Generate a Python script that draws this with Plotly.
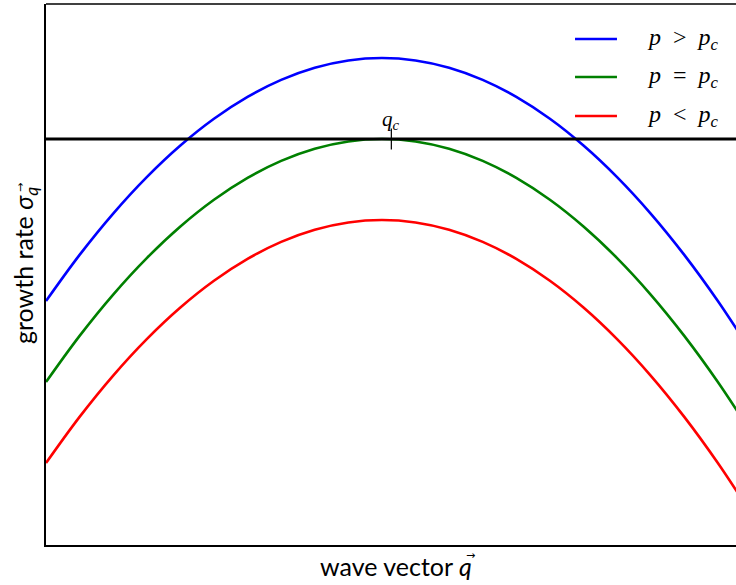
import plotly.graph_objects as go

# wave vector samples and the three growth-rate curves
q = [0.0, 0.1, 0.2, 0.3, 0.4, 0.5, 0.6, 0.7, 0.8, 0.9, 1.0,
     1.1, 1.2, 1.3, 1.4, 1.5, 1.6, 1.7, 1.8, 1.9, 2.0, 2.1]
sigma_above = [-2.00, -1.43, -0.92, -0.47, -0.08, 0.25, 0.52, 0.73, 0.88, 0.97, 1.00,
               0.97, 0.88, 0.73, 0.52, 0.25, -0.08, -0.47, -0.92, -1.43, -2.00, -2.63]
sigma_crit = [-3.00, -2.43, -1.92, -1.47, -1.08, -0.75, -0.48, -0.27, -0.12, -0.03, 0.00,
              -0.03, -0.12, -0.27, -0.48, -0.75, -1.08, -1.47, -1.92, -2.43, -3.00, -3.63]
sigma_below = [-4.00, -3.43, -2.92, -2.47, -2.08, -1.75, -1.48, -1.27, -1.12, -1.03, -1.00,
               -1.03, -1.12, -1.27, -1.48, -1.75, -2.08, -2.47, -2.92, -3.43, -4.00, -4.63]

series_names = ["<i>p</i>  &gt;  <i>p</i><sub><i>c</i></sub>",
                "<i>p</i>  =  <i>p</i><sub><i>c</i></sub>",
                "<i>p</i>  &lt;  <i>p</i><sub><i>c</i></sub>"]
series_colors = ["#0000ff", "#008000", "#ff0000"]

q_c = 1.028
sigma_zero = 0.0

MATH = "Liberation Serif"
SANS = "Lato"

fig = go.Figure()
for ys, name, col in zip([sigma_above, sigma_crit, sigma_below], series_names, series_colors):
    fig.add_trace(go.Scatter(x=q, y=ys, mode="lines", name=name, showlegend=False,
                             line=dict(color=col, width=2.6, shape="spline")))

# marginal-stability line
fig.add_shape(type="line", xref="paper", x0=0, x1=1, yref="y", y0=sigma_zero, y1=sigma_zero,
              line=dict(color="black", width=3), layer="above")

# critical wave vector marker
fig.add_trace(go.Scatter(x=[q_c], y=[sigma_zero], mode="markers", showlegend=False,
                         marker=dict(symbol="cross-thin", size=15,
                                     line=dict(color="black", width=1.2))))
fig.add_annotation(x=q_c, y=sigma_zero, text="<i>q</i><sub><i>c</i></sub>", showarrow=False,
                   yshift=19, font=dict(family=MATH, size=21, color="black"))

# legend (line sample + label per curve)
legend_rows = [0.9353, 0.8651, 0.7930]
for yy, name, col in zip(legend_rows, series_names, series_colors):
    fig.add_shape(type="line", xref="paper", yref="paper", x0=0.7667, x1=0.8275, y0=yy, y1=yy,
                  line=dict(color=col, width=2.6))
    fig.add_annotation(xref="paper", yref="paper", x=0.8681, y=yy, xanchor="left",
                       yanchor="middle", text=name, showarrow=False,
                       font=dict(family=MATH, size=24, color="black"))

# axis titles (vector arrows drawn as small separate glyphs)
fig.add_annotation(xref="paper", yref="paper", x=0.507, y=0, yshift=-21,
                   xanchor="center", yanchor="middle",
                   text="wave vector <i>q</i>", showarrow=False,
                   font=dict(family=SANS, size=25, color="black"))
fig.add_annotation(xref="paper", yref="paper", x=0.6145, y=0, yshift=-10,
                   xanchor="center", yanchor="middle", text="→", showarrow=False,
                   font=dict(family="DejaVu Sans", size=11, color="black"))
fig.add_annotation(xref="paper", yref="paper", x=0, xshift=-21, y=0.5157,
                   xanchor="center", yanchor="middle",
                   text="growth rate <i>σ</i><sub><i>q</i></sub>", showarrow=False,
                   textangle=-90, font=dict(family=SANS, size=25, color="black"))
fig.add_annotation(xref="paper", yref="paper", x=0, xshift=-25, y=0.660,
                   xanchor="center", yanchor="middle", text="→", showarrow=False,
                   textangle=-90, font=dict(family="DejaVu Sans", size=11, color="black"))

fig.update_layout(
    width=736, height=585,
    margin=dict(l=46, r=0, t=4, b=40),
    paper_bgcolor="white", plot_bgcolor="white",
    showlegend=False,
    xaxis=dict(range=[0, 2.054], showgrid=False, zeroline=False, showticklabels=False,
               ticks="", showline=True, linecolor="black", linewidth=1.6),
    yaxis=dict(range=[-5.012, 1.667], showgrid=False, zeroline=False, showticklabels=False,
               ticks="", showline=True, linecolor="black", linewidth=1.6),
)
# top spine
fig.add_shape(type="line", xref="paper", yref="paper", x0=0, x1=1, y0=1, y1=1,
              line=dict(color="black", width=1.6))

fig.write_html("out.html")
